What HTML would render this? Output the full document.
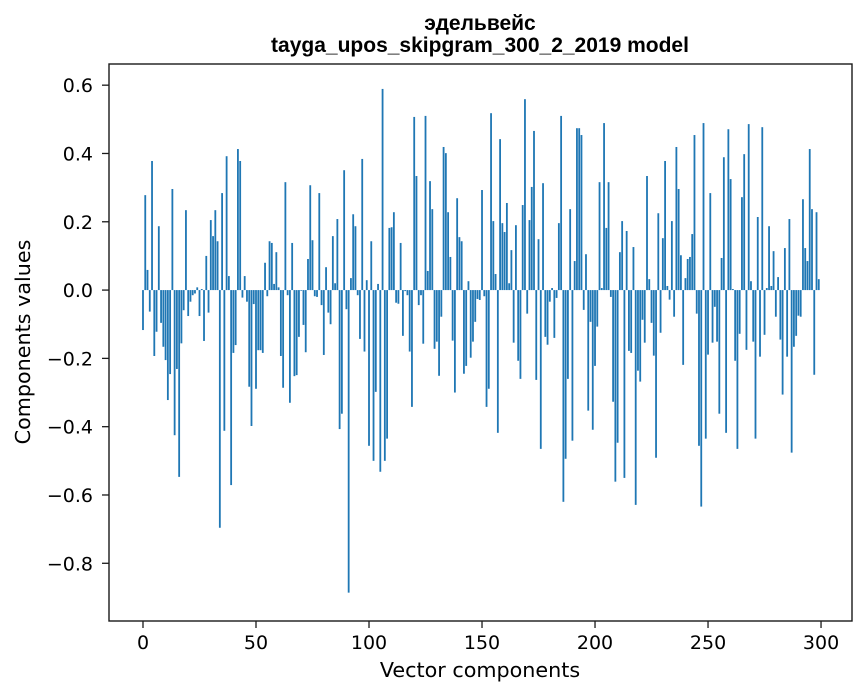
<!DOCTYPE html>
<html><head><meta charset="utf-8"><style>
body{margin:0;background:#fff;}
svg{display:block;font-family:"DejaVu Sans","Liberation Sans",sans-serif;}
</style></head><body>
<svg id="chart" width="867" height="696" viewBox="0 0 867 696" xmlns="http://www.w3.org/2000/svg">
<rect width="867" height="696" fill="#fff"/>
<text x="480" y="30" text-anchor="middle" font-size="21" font-weight="bold" font-family="Liberation Sans, sans-serif">эдельвейс</text>
<text x="480" y="52" text-anchor="middle" font-size="21" font-weight="bold" font-family="Liberation Sans, sans-serif">tayga_upos_skipgram_300_2_2019 model</text>
<g id="bars"></g>
<g id="xticks"></g>
<g id="yticks"></g>
<rect x="109" y="64" width="743" height="557" fill="none" stroke="#1a1a1a" stroke-width="1.4"/>
<text x="480" y="677" text-anchor="middle" font-size="20.7">Vector components</text>
<text transform="translate(30,342) rotate(-90)" text-anchor="middle" font-size="20.7">Components values</text>
</svg>
<script>
const values = [-0.117,0.278,0.059,-0.063,0.378,-0.193,-0.122,0.187,-0.096,-0.166,-0.205,-0.322,-0.246,0.296,-0.425,-0.231,-0.547,-0.156,-0.059,0.234,-0.076,-0.034,-0.015,-0.01,0.008,-0.076,0.003,-0.149,0.1,-0.066,0.205,0.158,0.234,0.143,-0.696,0.284,-0.412,0.392,0.041,-0.571,-0.184,-0.161,0.413,0.378,-0.022,0.041,-0.034,-0.283,-0.398,-0.041,
-0.289,-0.176,-0.176,-0.184,0.08,-0.018,0.143,0.138,0.018,0.111,0.008,-0.193,-0.286,0.316,-0.015,-0.33,0.138,-0.252,-0.249,-0.137,-0.002,-0.102,-0.182,0.091,0.307,0.146,-0.018,-0.02,0.284,-0.044,-0.19,0.067,-0.066,-0.1,0.158,0.02,0.208,-0.407,-0.362,0.351,-0.056,-0.886,0.035,0.222,0.187,-0.015,-0.143,0.384,
-0.18,0.029,-0.456,0.143,-0.5,-0.298,0.018,-0.532,0.589,-0.5,-0.435,0.182,0.184,0.228,-0.037,-0.04,0.138,-0.134,-0.003,-0.015,-0.18,-0.342,0.507,0.334,-0.044,-0.015,-0.157,0.51,0.056,0.319,0.237,-0.172,-0.151,-0.251,-0.078,0.419,0.401,0.228,0.097,-0.148,-0.3,0.269,0.155,0.143,-0.245,-0.222,0.026,-0.198,-0.151,-0.093,-0.026,-0.029,
0.293,-0.018,-0.342,-0.289,0.518,0.202,0.047,-0.418,0.442,0.196,0.17,0.255,0.02,0.117,-0.154,0.19,-0.207,-0.26,0.249,0.559,-0.069,0.205,0.302,0.466,-0.263,0.149,-0.465,0.313,-0.137,-0.16,-0.034,0.006,-0.14,-0.023,0.196,0.51,-0.62,-0.494,-0.26,0.237,-0.441,0.085,0.474,0.474,0.454,-0.058,0.105,-0.353,-0.093,-0.409,
-0.222,-0.107,0.316,0.006,0.489,0.182,0.316,-0.02,-0.327,-0.561,-0.447,0.111,0.202,-0.55,0.173,-0.178,-0.184,0.126,-0.629,-0.236,-0.268,-0.087,-0.154,0.334,0.032,-0.096,-0.192,-0.491,0.225,-0.125,0.152,0.378,0.012,-0.028,0.202,-0.078,0.419,0.296,0.102,-0.219,0.035,0.091,0.097,0.164,0.454,-0.069,-0.456,-0.634,0.489,-0.435,
-0.189,0.284,-0.154,-0.049,-0.151,-0.362,0.094,0.389,-0.418,0.471,0.325,0.003,-0.207,-0.465,-0.128,0.272,0.398,-0.175,0.486,0.026,-0.151,-0.435,0.214,-0.195,0.477,-0.131,0.006,0.187,0.012,0.114,-0.078,0.038,-0.145,-0.306,0.123,-0.195,0.208,-0.476,-0.166,-0.134,-0.075,-0.078,0.266,0.123,0.085,0.413,0.237,-0.248,0.228,0.032];
const xTicks = [0,50,100,150,200,250,300];
const yTicks = [0.6,0.4,0.2,0.0,-0.2,-0.4,-0.6,-0.8];
const NS='http://www.w3.org/2000/svg';
const X0=109,X1=852,Y0=64,Y1=621;
const xMin=-15.04,xMax=313.7,yMin=-0.969,yMax=0.662;
function xs(v){return X0+(v-xMin)/(xMax-xMin)*(X1-X0);}
function ys(v){return Y1-(v-yMin)/(yMax-yMin)*(Y1-Y0);}
const bars=document.getElementById('bars');
values.forEach((v,i)=>{
  const r=document.createElementNS(NS,'rect');
  
  
  const x=xs(i-0.4), w=xs(i+0.4)-x;
  const y=Math.min(ys(v),ys(0)), h=Math.abs(ys(v)-ys(0));
  r.setAttribute('x',x);r.setAttribute('y',y);r.setAttribute('width',w);r.setAttribute('height',Math.max(h,0.3));
  r.setAttribute('fill','#1f77b4');
  bars.appendChild(r);
});
const xg=document.getElementById('xticks');
xTicks.forEach(t=>{
  const l=document.createElementNS(NS,'line');
  
  
  l.setAttribute('x1',xs(t));l.setAttribute('x2',xs(t));l.setAttribute('y1',Y1);l.setAttribute('y2',Y1+7);l.setAttribute('stroke','#1a1a1a');l.setAttribute('stroke-width','1.3');
  xg.appendChild(l);
  const tx=document.createElementNS(NS,'text');
  
  
  tx.setAttribute('x',xs(t));tx.setAttribute('y',649);tx.setAttribute('text-anchor','middle');tx.setAttribute('font-size','19');
  tx.textContent=t;xg.appendChild(tx);
});
const yg=document.getElementById('yticks');
yTicks.forEach(t=>{
  const l=document.createElementNS(NS,'line');
  
  
  l.setAttribute('x1',X0-7);l.setAttribute('x2',X0);l.setAttribute('y1',ys(t));l.setAttribute('y2',ys(t));l.setAttribute('stroke','#1a1a1a');l.setAttribute('stroke-width','1.3');
  yg.appendChild(l);
  const tx=document.createElementNS(NS,'text');
  
  
  tx.setAttribute('x',X0-16);tx.setAttribute('y',ys(t)+7);tx.setAttribute('text-anchor','end');tx.setAttribute('font-size','19');
  tx.textContent=(t<0?'\u2212':'')+Math.abs(t).toFixed(1);yg.appendChild(tx);
});
</script>
</body></html>
